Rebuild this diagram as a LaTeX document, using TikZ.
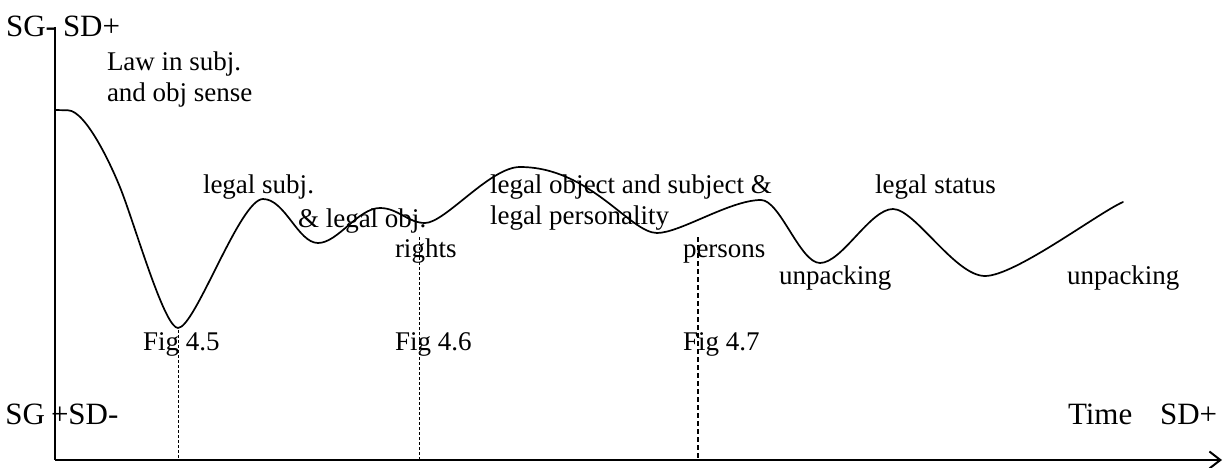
\documentclass[tikz,border=0pt]{standalone}
\usepackage{fontspec}
\setmainfont{Liberation Serif}
\usetikzlibrary{arrows.meta}
\begin{document}
\begin{tikzpicture}[x=1pt,y=-1pt,
  lbl/.style={inner sep=0pt,outer sep=0pt,anchor=base west,font=\fontsize{27}{31}\selectfont},
  mlbl/.style={inner sep=0pt,outer sep=0pt,anchor=north west,align=left,font=\fontsize{27}{31}\selectfont},
  axlbl/.style={inner sep=0pt,outer sep=0pt,anchor=base west,font=\fontsize{31}{36}\selectfont},
  axisline/.style={line width=2pt},
  curveline/.style={line width=1.7pt,line join=round,line cap=round},
  figline/.style={line width=0.9pt,dash pattern=on 3pt off 2pt},
  figlinethick/.style={line width=1.4pt,dash pattern=on 5pt off 3pt}]
\useasboundingbox[fill=white] (0,0) rectangle (1225,468);

% axes
\coordinate (origin) at (55,460);
\coordinate (ytop) at (55,27);
\coordinate (xend) at (1222,460);
\draw[axisline] (ytop) -- (origin);
\draw[axisline,-{Straight Barb[length=11pt,width=17pt,line width=2pt]}] (origin) -- (xend);

% axis labels
\node[axlbl,anchor=base east] (sgm) at (56,36.5) {SG-};
\node[axlbl] (sdp) at (63,36.5) {SD+};
\node[axlbl,anchor=base east] (sg) at (45,424) {SG};
\node[axlbl] (psdm) at (51,424) {+SD-};
\node[axlbl] (time) at (1068,424) {Time};
\node[axlbl] (sdp2) at (1160,424) {SD+};

% the curve
\draw[curveline] (55,110) -- (68,110.3)
  .. controls (86,110.5) and (113,168) .. (123,195)
  .. controls (138,235.5) and (165,328) .. (178,328)
  .. controls (195,328) and (240,199) .. (263,199)
  .. controls (285,199) and (298,243) .. (318,243)
  .. controls (338,243) and (358,208) .. (380,208)
  .. controls (398,208) and (408,223) .. (425,223)
  .. controls (445,223) and (490,167) .. (520,167)
  .. controls (590,167) and (630,233) .. (657,233)
  .. controls (680,233) and (730,200) .. (761,200)
  .. controls (780,200) and (800,263) .. (820,263)
  .. controls (842,263) and (870,209) .. (893,209)
  .. controls (915,209) and (955,276) .. (985,276)
  .. controls (1015,276) and (1098,213) .. (1123,202);

% figure markers
\coordinate (f5top) at (178,330);
\coordinate (f5bot) at (178,460);
\coordinate (f6top) at (419,237);
\coordinate (f6bot) at (419,460);
\coordinate (f7top) at (698,237);
\coordinate (f7bot) at (698,460);
\draw[figline] (f5top) -- (f5bot);
\draw[figline] (f6top) -- (f6bot);
\draw[figlinethick] (f7top) -- (f7bot);

% labels
\node[mlbl] (law) at (107,52) {Law in subj.\\and obj sense};
\node[lbl] (lsubj) at (203,193) {legal subj.};
\node[lbl] (lobj) at (298,227) {\& legal obj.};
\node[lbl] (rights) at (395,257) {rights};
\node[mlbl] (lobjsubj) at (490,175) {legal object and subject \&\\legal personality};
\node[lbl] (persons) at (683,257) {persons};
\node[lbl] (status) at (875,193) {legal status};
\node[lbl] (unp1) at (779,284) {unpacking};
\node[lbl] (unp2) at (1067,284) {unpacking};
\node[lbl] (fig5) at (143,350) {Fig 4.5};
\node[lbl] (fig6) at (395,350) {Fig 4.6};
\node[lbl] (fig7) at (683,350) {Fig 4.7};
\end{tikzpicture}
\end{document}
